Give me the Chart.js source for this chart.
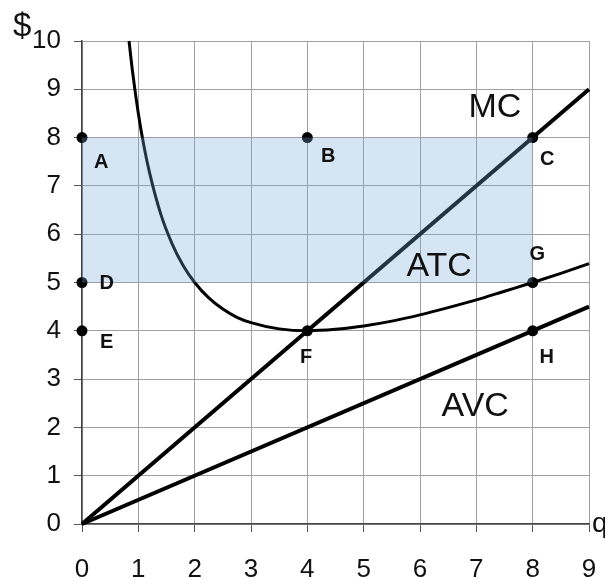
<!DOCTYPE html>
<html>
<head>
<meta charset="utf-8">
<script src="https://cdn.jsdelivr.net/npm/chart.js@4/dist/chart.umd.min.js"></script>
<style>
html,body{margin:0;padding:0;background:#fff;}
#wrap{width:605px;height:579px;position:relative;}
</style>
</head>
<body>
<div id="wrap"><canvas id="c" width="605" height="579"></canvas></div>
<script>
// Data
const xTicks = [0,1,2,3,4,5,6,7,8,9];
const yTicks = [0,1,2,3,4,5,6,7,8,9,10];
const mcQ = [0, 9];
const mcV = [0, 9];
const avcQ = [0, 9];
const avcV = [0, 4.5];
const atcQ = [0.835,0.9,1,1.1,1.2,1.4,1.6,1.8,2,2.25,2.5,2.75,3,3.5,4,4.5,5,5.5,6,6.5,7,7.5,8,8.5,9];
const atcV = [10.0,9.34,8.5,7.82,7.27,6.41,5.8,5.34,5.0,4.68,4.45,4.28,4.17,4.04,4.0,4.03,4.1,4.2,4.33,4.48,4.64,4.82,5.0,5.19,5.39];
const rectQ = [0, 8];
const rectTop = [8, 8];
const rectBottom = [5, 5];
const dotQ = [0, 4, 8, 0, 8, 0, 4, 8];
const dotV = [8, 8, 8, 5, 5, 4, 4, 4];
const letterText = ['A','B','C','D','E','F','G','H'];
const letterQ = [0.34, 4.37, 8.26, 0.44, 0.44, 3.98, 8.08, 8.25];
const letterV = [7.49, 7.6, 7.54, 4.97, 3.75, 3.44, 5.59, 3.44];
const curveText = ['MC','ATC','AVC'];
const curveQ = [7.33, 6.34, 6.98];
const curveV = [8.63, 5.32, 2.42];

const pts = (xs, ys) => xs.map((x, i) => ({x: x, y: ys[i]}));

const labelsPlugin = {
  id: 'labels',
  afterDatasetsDraw(chart) {
    const ctx = chart.ctx;
    const xs = chart.scales.x, ys = chart.scales.y;
    ctx.save();
    ctx.fillStyle = '#111';
    ctx.textAlign = 'center';
    ctx.textBaseline = 'middle';
    ctx.font = 'bold 20px "Liberation Sans", Arial, sans-serif';
    letterText.forEach((t, i) => {
      ctx.fillText(t, xs.getPixelForValue(letterQ[i]), ys.getPixelForValue(letterV[i]));
    });
    ctx.font = '34px "Liberation Sans", Arial, sans-serif';
    curveText.forEach((t, i) => {
      ctx.fillText(t, xs.getPixelForValue(curveQ[i]), ys.getPixelForValue(curveV[i]));
    });
    // axis titles
    ctx.font = '33px "Liberation Sans", Arial, sans-serif';
    ctx.textAlign = 'left';
    ctx.fillText('$', 13, 27);
    ctx.font = '28px "Liberation Sans", Arial, sans-serif';
    ctx.fillText('q', xs.right + 3, ys.bottom);
    ctx.restore();
  }
};

new Chart(document.getElementById('c'), {
  type: 'scatter',
  data: {
    datasets: [
      {data: pts(rectQ, rectTop), showLine: true, borderWidth: 0, pointRadius: 0, fill: '+1',
       backgroundColor: 'rgba(120,170,220,0.30)', borderColor: 'rgba(0,0,0,0)'},
      {data: pts(rectQ, rectBottom), showLine: true, borderWidth: 0, pointRadius: 0, fill: false,
       borderColor: 'rgba(0,0,0,0)'},
      {data: pts(mcQ, mcV), showLine: true, borderColor: '#000', borderWidth: 4, pointRadius: 0, fill: false},
      {data: pts(avcQ, avcV), showLine: true, borderColor: '#000', borderWidth: 4, pointRadius: 0, fill: false},
      {data: pts(atcQ, atcV), showLine: true, borderColor: '#000', borderWidth: 3, pointRadius: 0, fill: false,
       cubicInterpolationMode: 'monotone'},
      {data: pts(dotQ, dotV), showLine: false, pointRadius: 5.5, pointBackgroundColor: '#000', pointBorderWidth: 0}
    ]
  },
  options: {
    responsive: false,
    animation: false,
    clip: false,
    layout: {padding: {left: 0, right: 16, top: 41, bottom: 0}},
    plugins: {legend: {display: false}, tooltip: {enabled: false}},
    scales: {
      x: {
        type: 'linear', min: 0, max: 9,
        afterBuildTicks(s) { s.ticks = xTicks.map(v => ({value: v})); },
        afterFit(s) { s.height = 55; s.paddingLeft = 0; s.paddingRight = 0; },
        grid: {color: '#a0a0a0', lineWidth: 1, tickLength: 8, tickColor: '#555'},
        border: {color: '#444', width: 1.5},
        ticks: {color: '#111', font: {family: '"Liberation Sans", Arial, sans-serif', size: 26}, padding: 22, maxRotation: 0}
      },
      y: {
        type: 'linear', min: 0, max: 10,
        afterBuildTicks(s) { s.ticks = yTicks.map(v => ({value: v})); },
        afterFit(s) { s.width = 82; s.paddingTop = 0; s.paddingBottom = 0; },
        grid: {color: '#a0a0a0', lineWidth: 1, tickLength: 8, tickColor: '#555'},
        border: {color: '#444', width: 1.5},
        ticks: {color: '#111', font: {family: '"Liberation Sans", Arial, sans-serif', size: 26}, padding: 13}
      }
    }
  },
  plugins: [labelsPlugin]
});
</script>
</body>
</html>
